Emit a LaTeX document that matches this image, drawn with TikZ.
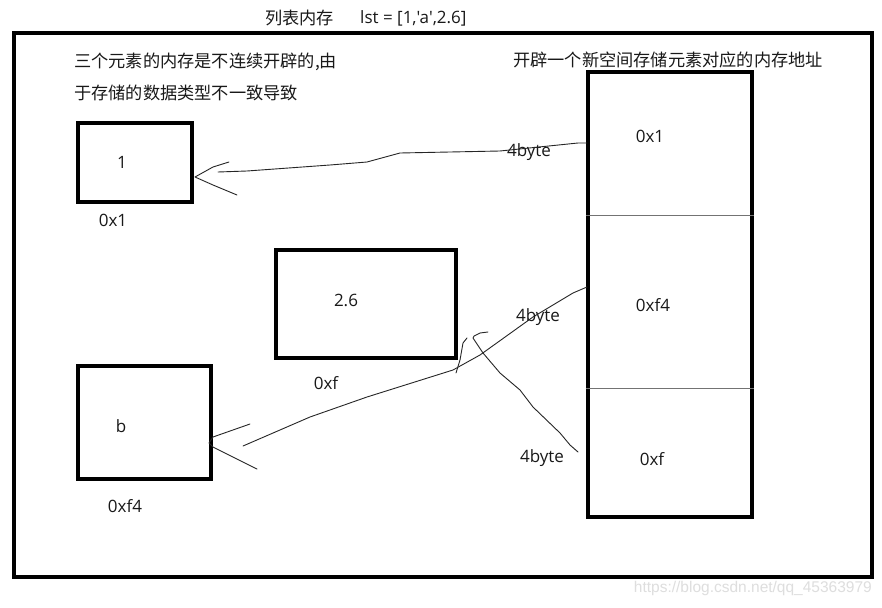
\documentclass[tikz,border=0pt]{standalone}
\usepackage{fontspec}
\setmainfont{Open Sans}[Ligatures=TeXReset]
\newfontfamily\cjk{Noto Sans CJK SC}
\begin{document}
\begin{tikzpicture}[x=1pt,y=-1pt,
  lbl/.style={inner sep=0pt, font=\fontsize{17}{20}\selectfont, text=black!90},
  cn/.style={inner sep=0pt, anchor=west, font=\cjk\fontsize{17.2}{20}\selectfont, text=black!90},
  membox/.style={draw=black, line width=4.5pt, inner sep=0pt},
  hand/.style={draw=black!85, line width=0.9pt, line join=round, line cap=round}]
\useasboundingbox[fill=white] (0,0) rectangle (882,607);
% outer frame
\node[draw=black, line width=4pt, minimum width=858pt, minimum height=544pt, inner sep=0pt] (frame) at (443,305) {};
% titles
\node[cn] (t1) at (265,18) {列表内存};
\node[lbl, anchor=west] (t2) at (360,18) {lst = [1,'a',2.6]};
\node[cn] (c1) at (74,62) {三个元素的内存是不连续开辟的,由};
\node[cn] (c2) at (74,93) {于存储的数据类型不一致导致};
\node[cn] (c3) at (513,60) {开辟一个新空间存储元素对应的内存地址};
% value boxes
\node[membox, minimum width=114pt, minimum height=79pt] (b1) at (135,162.5) {};
\node[membox, minimum width=180pt, minimum height=108pt] (b26) at (366,304) {};
\node[membox, minimum width=133pt, minimum height=113pt] (bb) at (144.5,422.5) {};
\node[lbl] (v1) at (122,162) {1};
\node[lbl] (v26) at (346,300) {2.6};
\node[lbl] (vb) at (121,426) {b};
\node[lbl] (a1) at (113,220) {0x1};
\node[lbl] (a26) at (326,383) {0xf};
\node[lbl] (ab) at (125,506) {0xf4};
% address box
\node[membox, minimum width=164pt, minimum height=445pt] (mem) at (670,294.5) {};
\draw[draw=black!55, line width=1pt] (mem.west |- 0,215) -- (mem.east |- 0,215);
\draw[draw=black!55, line width=1pt] (mem.west |- 0,388) -- (mem.east |- 0,388);
\node[lbl] (m1) at (650,136) {0x1};
\node[lbl] (m2) at (653,305) {0xf4};
\node[lbl] (m3) at (652,459) {0xf};
\node[lbl] (s1) at (529,152) {4byte};
\node[lbl] (s2) at (538,317) {4byte};
\node[lbl] (s3) at (542,458) {4byte};
% connectors
\coordinate (p1s) at (587,143);
\coordinate (p1e) at (218,172);
\coordinate (h1) at (195,177);
\draw[hand] (p1s) -- (578,143) -- (500,151) -- (400,153) -- (367,162) -- (330,165) -- (247,171) -- (p1e);
\draw[hand] (229,162) -- (213,167) -- (h1) -- (213,185) -- (237,195);
\coordinate (p2s) at (587,287);
\coordinate (p2e) at (243,446);
\coordinate (h2) at (209,443);
\draw[hand] (p2s) -- (573,293) -- (533,317) -- (480,355) -- (453,370) -- (367,397) -- (310,417) -- (p2e);
\draw[hand] (250,424) -- (213,437) -- (h2) -- (213,447) -- (257,469);
\coordinate (p3s) at (578,452);
\coordinate (p3e) at (473,338);
\draw[hand] (p3s) -- (570,445) -- (560,433) -- (533,407) -- (520,390) -- (500,373) -- (483,353) -- (p3e) -- (474,336) -- (480,333) -- (488,332);
\draw[hand] (467,338) -- (463,343) -- (460,360) -- (456,373);
% watermark
\node[inner sep=0pt, anchor=east, text=black!13, font=\fontspec{Liberation Sans}\fontsize{15.5}{17}\selectfont] (wm) at (872,588) {https://blog.csdn.net/qq\_45363979};
\end{tikzpicture}
\end{document}
